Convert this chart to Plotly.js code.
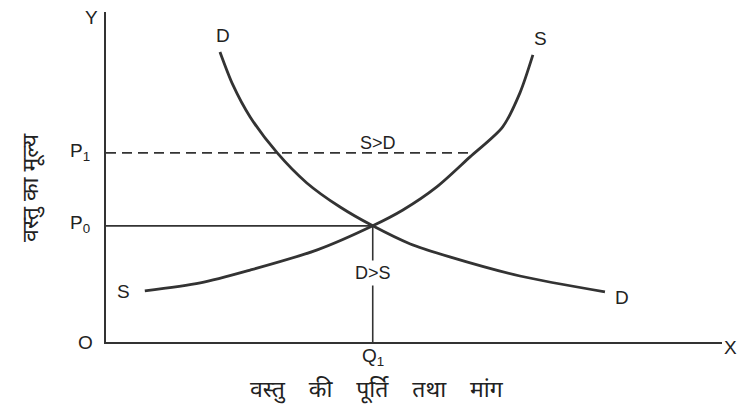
<!DOCTYPE html>
<html>
<head>
<meta charset="utf-8">
<script src="https://cdn.plot.ly/plotly-3.0.1.min.js"></script>
<style>html,body{margin:0;padding:0;background:#fff;}#chart{width:743px;height:404px;}</style>
</head>
<body>
<div id="chart"></div>
<script>
// Demand curve (quantity, price)
const demandX = [1.85, 2.06, 2.34, 2.78, 3.26, 3.80, 4.33, 4.94, 5.58, 6.72, 8.10];
const demandY = [8.79, 7.79, 6.82, 5.73, 4.82, 4.09, 3.52, 2.97, 2.58, 2.00, 1.52];
// Supply curve (quantity, price)
const supplyX = [0.63, 1.53, 2.34, 3.43, 4.33, 4.82, 5.37, 5.91, 6.44, 6.72, 6.93];
const supplyY = [1.55, 1.79, 2.18, 2.79, 3.52, 4.00, 4.70, 5.61, 6.52, 7.55, 8.70];
// Equilibrium and price levels
const Q1 = 4.33;
const P0 = 3.52;
const P1 = 5.73;
const P1supplyX = 5.91;

const ink = '#333333';
const font = {family: 'Liberation Sans, Arial, sans-serif', size: 19, color: '#222'};
const small = {family: 'Liberation Sans, Arial, sans-serif', size: 18, color: '#222'};
const hindi = {family: 'Noto Sans, Noto Sans Devanagari, Lohit Devanagari, sans-serif', size: 23, color: '#222'};
const sp = '\u00A0\u00A0\u00A0\u00A0';
const xTitle = ['वस्तु', 'की', 'पूर्ति', 'तथा', 'मांग'].join(sp);
const yTitle = 'वस्तु का मूल्य';

const traces = [
  {x: demandX, y: demandY, mode: 'lines', line: {shape: 'spline', smoothing: 0.8, color: ink, width: 2.8}, hoverinfo: 'skip'},
  {x: supplyX, y: supplyY, mode: 'lines', line: {shape: 'spline', smoothing: 0.8, color: ink, width: 2.8}, hoverinfo: 'skip'},
  {x: [0, P1supplyX], y: [P1, P1], mode: 'lines', line: {color: ink, width: 1.6, dash: '10px,6px'}, hoverinfo: 'skip'},
  {x: [0, Q1], y: [P0, P0], mode: 'lines', line: {color: ink, width: 1.6}, hoverinfo: 'skip'},
  {x: [Q1, Q1], y: [P0, 0], mode: 'lines', line: {color: ink, width: 1.6}, hoverinfo: 'skip'}
];

// label placed in plot-area fractions (x/10, y/10 of the 0..10 axes)
function lab(text, x, y, f, extra) {
  return Object.assign({text: text, x: x / 10, y: y / 10, xref: 'paper', yref: 'paper',
    xanchor: 'center', yanchor: 'middle', showarrow: false, borderpad: 0, font: f || font}, extra || {});
}

const layout = {
  width: 743, height: 404,
  margin: {l: 106, r: 21, t: 12, b: 62},
  paper_bgcolor: '#fff', plot_bgcolor: '#fff',
  showlegend: false,
  xaxis: {range: [0, 10], showgrid: false, zeroline: false, showticklabels: false, ticks: '',
          showline: true, linecolor: ink, linewidth: 2},
  yaxis: {range: [0, 10], showgrid: false, zeroline: false, showticklabels: false, ticks: '',
          showline: true, linecolor: ink, linewidth: 2},
  annotations: [
    lab('Y', -0.23, 9.82),
    lab('O', -0.34, -0.03),
    lab('P<sub>1</sub>', -0.42, 5.76),
    lab('P<sub>0</sub>', -0.42, 3.58),
    lab('D', 1.90, 9.30),
    lab('S', 7.05, 9.21),
    lab('S>D', 4.42, 6.03, small),
    lab('D>S', 4.33, 2.09, small, {bgcolor: '#fff', borderpad: 2}),
    lab('S', 0.28, 1.52),
    lab('D', 8.38, 1.36),
    lab('Q<sub>1</sub>', 4.33, -0.45),
    lab('X', 10.14, -0.18),
    lab(xTitle, 4.40, -1.40, hindi),
    lab(yTitle, -1.25, 4.67, hindi, {textangle: -90})
  ]
};

Plotly.newPlot('chart', traces, layout, {staticPlot: true, displayModeBar: false});
</script>
</body>
</html>
